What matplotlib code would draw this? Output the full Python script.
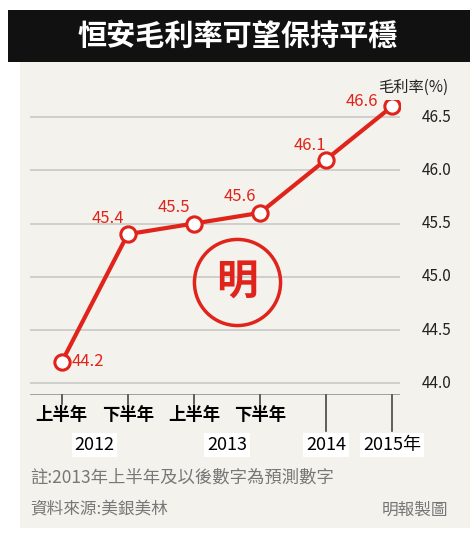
import matplotlib.pyplot as plt
from matplotlib.patches import Rectangle

plt.rcParams['font.family'] = ['Noto Sans CJK TC', 'DejaVu Sans']

halves = ["上半年", "下半年", "上半年", "下半年"]
years = ["2012", "2013", "2014", "2015年"]
margin = [44.2, 45.4, 45.5, 45.6, 46.1, 46.6]
yticks = [44.0, 44.5, 45.0, 45.5, 46.0, 46.5]

red = "#e0241b"
bg = "#f4f2ec"

fig = plt.figure(figsize=(4.76, 5.40), dpi=100)
fig.patch.set_facecolor("white")
fig.patches.append(Rectangle((20/476, 1-528/540), 450/476, 470/540, transform=fig.transFigure,
                             facecolor=bg, edgecolor="none", zorder=-1))
fig.patches.append(Rectangle((8/476, 1-62/540), 462/476, 52/540, transform=fig.transFigure,
                             facecolor="#111111", edgecolor="none"))
fig.text(0.5, 1-36/540, "恒安毛利率可望保持平穩", color="white", fontsize=21,
         fontweight="bold", ha="center", va="center")

ax = fig.add_axes([30/476, 1-395/540, 370/476, 295/540])
ax.set_facecolor(bg)
x = list(range(len(margin)))
ax.set_xlim(-0.48, 5.12)
ax.set_ylim(43.89, 46.66)
for v in yticks:
    ax.axhline(v, color="#c8c8c8", lw=1.2, zorder=0)
    ax.text(5.45, v, f"{v:.1f}", ha="left", va="center", fontsize=11, color="#222222")
ax.text(5.85, 46.78, "毛利率(%)", ha="right", va="center", fontsize=11, color="#222222")
ax.plot(x, margin, color=red, lw=3, marker="o", ms=11, mfc="white", mec=red, mew=2.2, zorder=3)
offs = [(0.4, 0.0), (-0.3, 0.15), (-0.3, 0.15), (-0.3, 0.15), (-0.25, 0.13), (-0.45, 0.05)]
for xi, v, (dx, dy) in zip(x, margin, offs):
    ax.text(xi + dx, v + dy, f"{v:.1f}", color=red, fontsize=12, ha="center", va="center")
ax.plot([2.65], [44.95], marker="o", ms=62, mfc="none", mec=red, mew=2.5)
ax.text(2.65, 44.95, "明", color=red, fontsize=30, ha="center", va="center", fontweight="bold")
for s in ax.spines.values():
    s.set_visible(False)
ax.set_xticks([])
ax.set_yticks([])
ax.axhline(43.89, color="#999999", lw=2)
for xi in x:
    ax.plot([xi, xi], [43.89, 43.81 if xi < 4 else 43.55], color="#444444", lw=1.2,
            clip_on=False)
    if xi < 4:
        ax.text(xi, 43.7, halves[xi], ha="center", va="center", fontsize=12.5, fontweight="bold")
for pos, lab in zip([0.5, 2.5, 4.0, 5.0], years):
    ax.text(pos, 43.42, lab, ha="center", va="center", fontsize=13,
            bbox=dict(facecolor="white", edgecolor="none", pad=2))

fig.text(30/476, 1-478/540, "註:2013年上半年及以後數字為預測數字", fontsize=12.5, color="#777777",
         va="center")
fig.text(30/476, 1-510/540, "資料來源:美銀美林", fontsize=12, color="#777777", va="center")
fig.text(448/476, 1-510/540, "明報製圖", fontsize=12, color="#777777", va="center", ha="right")

fig.savefig("out.png", dpi=100, facecolor=fig.get_facecolor())
